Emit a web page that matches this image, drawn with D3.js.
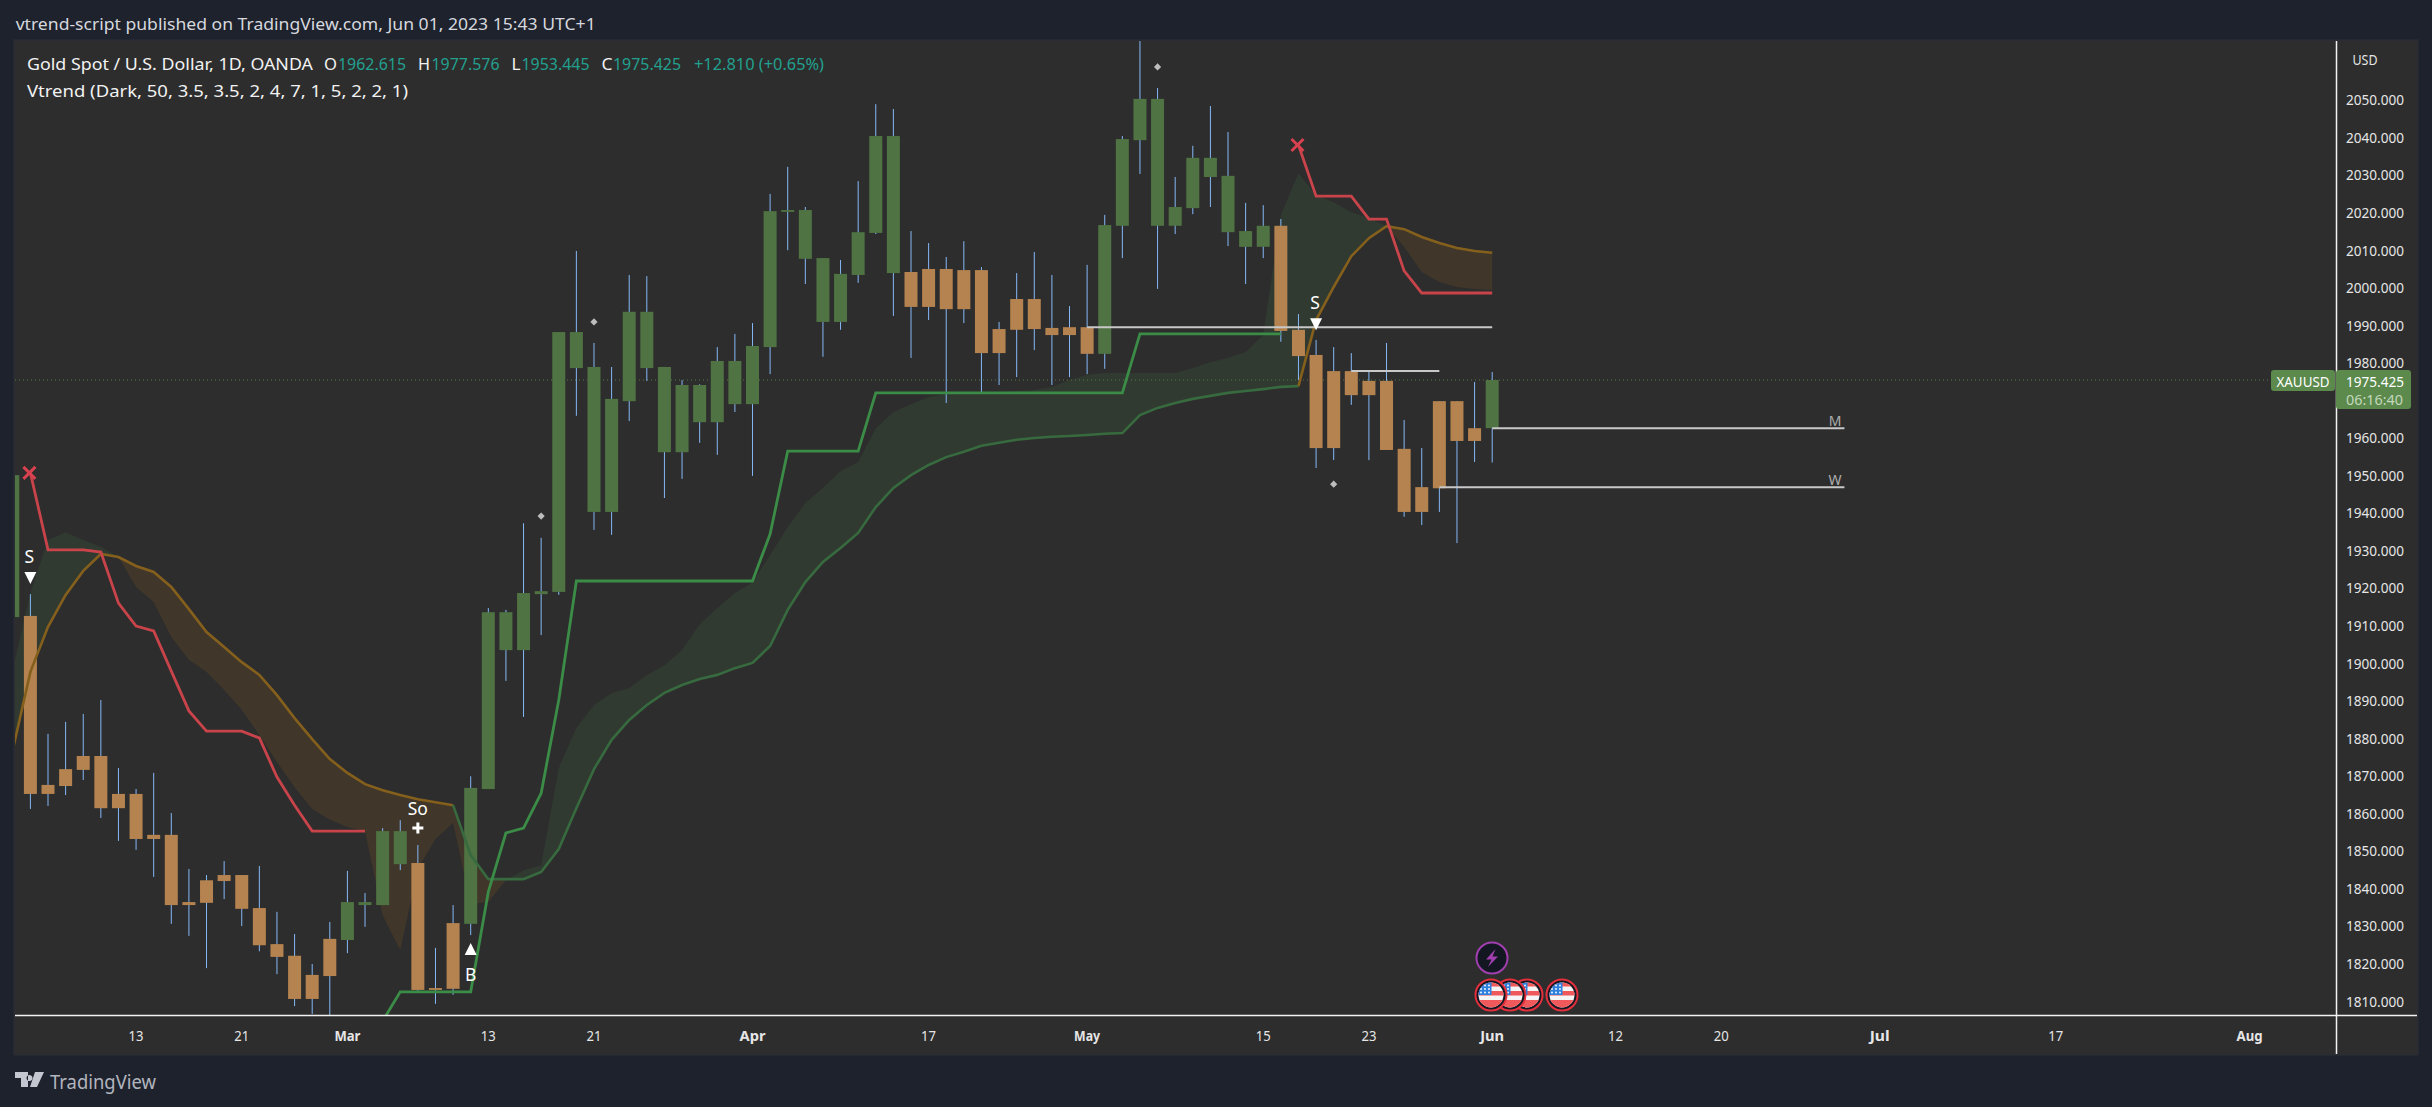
<!DOCTYPE html>
<html><head><meta charset="utf-8">
<style>html,body{margin:0;padding:0;background:#1e222d}svg{display:block}text{font-family:"Noto Sans",sans-serif}</style>
<script src="https://cdn.jsdelivr.net/npm/d3@7"></script></head><body>
<script>
// index 0 of these arrays is the bar of Feb 2; last is Jun 1
const opens=[1912.3,1912.6,1867.6,1871.8,1875.3,1875.3,1865.2,1865.2,1854.3,1854.3,1836.4,1842.2,1843.6,1843.6,1834.8,1825.2,1822.1,1817.0,1826.6,1826.3,1835.6,1835.6,1846.5,1846.8,1813.5,1830.8,1830.6,1866.5,1903.5,1903.5,1918.4,1919.0,1978.6,1940.3,1940.3,1969.8,1978.6,1956.2,1956.2,1964.2,1964.2,1969.0,1969.0,1984.2,2020.2,2007.7,1990.9,1990.9,2003.4,2014.6,2003.9,2004.2,2005.0,2005.0,2004.7,2004.7,1989.0,1997.0,1997.0,1989.3,1989.5,1989.5,1982.4,2016.5,2039.3,2016.5,2016.5,2021.2,2029.5,2014.8,2010.9,2010.9,2016.5,1988.8,1982.1,1977.8,1977.8,1975.2,1975.2,1957.1,1946.9,1969.8,1969.8,1962.6,1962.615];
const highs=[1950.1,1918.4,1881.2,1884.4,1886.5,1890.2,1872.1,1866.5,1870.8,1860.1,1845.2,1843.6,1847.3,1843.6,1846.0,1833.8,1827.9,1819.9,1831.1,1844.7,1838.8,1856.1,1858.2,1851.6,1824.2,1835.6,1869.9,1914.7,1914.2,1937.3,1933.4,1988.2,2009.8,1985.3,1978.9,2003.4,2003.1,1978.9,1975.4,1974.3,1984.2,1987.7,1990.6,2025.0,2032.2,2021.5,2007.9,2007.4,2028.4,2048.9,2047.6,2015.1,2011.9,2008.2,2012.4,2005.5,1990.9,2003.9,2009.5,2003.4,1995.1,2006.1,2019.4,2040.4,2065.7,2053.2,2029.5,2037.8,2048.4,2041.5,2022.6,2022.0,2018.3,1993.0,1986.1,1984.2,1982.6,1977.8,1985.3,1964.8,1957.3,1969.8,1969.8,1974.9,1977.576];
const lows=[1912.3,1861.2,1862.0,1864.9,1868.9,1858.8,1852.7,1850.3,1843.1,1830.6,1827.4,1818.8,1837.2,1830.0,1823.3,1817.2,1808.7,1806.6,1803.0,1822.8,1829.8,1835.6,1844.9,1812.5,1809.3,1811.7,1827.6,1866.5,1895.3,1885.7,1907.5,1918.2,1965.9,1935.5,1934.2,1964.5,1975.2,1944.0,1949.1,1958.7,1955.5,1966.9,1949.9,1977.0,2010.0,2001.0,1981.6,1988.8,2001.3,2014.3,1992.5,1981.3,1991.4,1969.3,1990.6,1971.7,1974.1,1976.2,1983.4,1974.1,1976.2,1977.0,1978.4,2007.9,2030.3,1999.7,2014.3,2019.6,2021.5,2011.1,2001.0,2007.9,1985.6,1975.4,1952.0,1954.1,1968.8,1954.1,1956.8,1939.0,1936.8,1940.3,1932.0,1953.6,1953.445];
const closes=[1950.1,1865.2,1865.2,1867.3,1871.6,1861.4,1861.4,1853.2,1853.2,1835.6,1835.6,1836.2,1842.0,1834.6,1824.9,1821.8,1810.6,1810.6,1816.7,1836.4,1836.4,1855.3,1855.3,1813.0,1813.0,1813.3,1866.8,1913.6,1913.6,1918.7,1919.2,1988.2,1988.2,1978.9,1970.4,1993.6,1993.6,1978.9,1974.1,1974.1,1980.5,1980.5,1984.5,2020.4,2020.7,2020.7,2007.9,2003.7,2014.8,2040.4,2040.4,1994.9,1994.9,1994.3,1994.3,1982.6,1982.6,1988.8,1989.0,1987.4,1987.4,1982.4,2016.7,2039.6,2050.3,2050.3,2021.5,2034.6,2034.6,2029.8,2015.1,2016.5,1988.5,1981.8,1957.3,1957.3,1971.4,1971.4,1956.8,1940.3,1940.3,1946.6,1959.2,1959.2,1975.425];
const trendLine=[1876.9,1897.7,1909.7,1918.2,1924.6,1929.1,1928.3,1925.9,1924.3,1920.3,1914.4,1908.3,1904.3,1900.3,1896.9,1891.5,1885.4,1879.8,1874.5,1870.8,1867.8,1866.2,1864.9,1863.8,1863.0,1862.2,1848.9,1842.5,1842.5,1842.5,1844.4,1850.5,1861.4,1871.8,1879.6,1884.9,1888.9,1892.1,1894.2,1895.8,1896.9,1898.7,1900.1,1904.6,1914.2,1921.6,1927.0,1930.7,1934.7,1941.6,1946.7,1950.1,1952.8,1954.9,1956.3,1957.9,1958.7,1959.5,1960.0,1960.3,1960.5,1960.8,1961.1,1961.3,1966.1,1968.0,1969.3,1970.4,1971.2,1972.0,1972.5,1973.0,1973.6,1973.8,1991.4,2000.2,2008.4,2013.2,2016.4,2015.6,2013.5,2011.9,2010.6,2009.8,2009.3];
const cloudEdge=[1898.2,1918.7,1932.8,1934.9,1932.8,1931.0,1928.3,1920.3,1916.3,1907.0,1900.9,1897.7,1892.9,1887.6,1880.9,1873.7,1867.0,1861.2,1858.3,1856.4,1855.3,1832.9,1823.6,1845.2,1853.2,1857.5,1835.9,1836.4,1842.3,1844.9,1846.3,1872.1,1882.8,1888.9,1892.1,1893.4,1896.9,1899.5,1903.5,1910.4,1914.7,1918.7,1921.6,1928.8,1936.3,1942.7,1946.7,1951.2,1953.6,1962.6,1966.9,1969.0,1970.9,1971.7,1972.0,1972.0,1972.2,1972.5,1972.8,1973.6,1975.4,1976.8,1977.3,1977.3,1977.3,1977.3,1977.3,1978.6,1980.2,1981.3,1982.9,1987.4,2019.4,2030.5,2024.7,2022.8,2020.2,2018.6,2016.4,2010.9,2004.2,2001.5,2000.2,1999.7,1999.4];
// stop lines: [bar index, value]; bar index counts from Feb 3 = 0
const redStopA=[[0,1950.7],[1,1930.2],[3,1930.2],[4,1929.6],[5,1916.0],[6,1909.9],[7,1908.6],[8,1897.9],[9,1887.3],[10,1881.9],[12,1881.9],[13,1880.1],[14,1869.7],[15,1862.2],[16,1855.3],[19,1855.3]];
const redStopB=[[72,2038.0],[73,2024.4],[75,2024.4],[76,2018.3],[77,2018.3],[78,2004.5],[79,1998.6],[83,1998.6]];
const greenStop=[[20,1804.7],[21,1812.5],[25,1812.5],[26,1839.1],[27,1854.8],[28,1856.1],[29,1865.4],[30,1890.2],[31,1921.9],[41,1921.9],[42,1934.4],[43,1956.5],[47,1956.5],[48,1972.0],[62,1972.0],[63,1987.7],[71,1987.7]];
const levelLines=[[60,83,1989.5,""],[75,80,1977.8,""],[83,103,1962.6,"M"],[80,103,1946.9,"W"]];
const dots=[[29,1939.2],[32,1990.9],[64,2058.8],[74,1947.7]];
const priceTicks=[2050,2040,2030,2020,2010,2000,1990,1980,1960,1950,1940,1930,1920,1910,1900,1890,1880,1870,1860,1850,1840,1830,1820,1810];
const dateTicks=[[6,"13"],[12,"21"],[18,"Mar",1],[26,"13"],[32,"21"],[41,"Apr",1],[51,"17"],[60,"May",1],[70,"15"],[76,"23"],[83,"Jun",1],[90,"12"],[96,"20"],[105,"Jul",1],[115,"17"],[126,"Aug",1]];

const W=2432,H=1107;
const x=d3.scaleLinear().domain([0,83]).range([30.4,1492.2]);
const y=d3.scaleLinear().domain([2050,1810]).range([100,1001.2]);
const svg=d3.select("body").append("svg").attr("width",W).attr("height",H);
svg.append("rect").attr("width",W).attr("height",H).attr("fill","#1e222d");
svg.append("rect").attr("x",14).attr("y",40).attr("width",2404).attr("height",1015).attr("fill","#2d2d2d").attr("stroke","#2a2e39").attr("stroke-width",1);
const defs=svg.append("defs");
defs.append("clipPath").attr("id","plot").append("rect").attr("x",15).attr("y",41).attr("width",2321).attr("height",974);
const plot=svg.append("g").attr("clip-path","url(#plot)");

const bars=d3.range(opens.length).map(i=>({b:i-1,o:opens[i],h:highs[i],l:lows[i],c:closes[i],t:trendLine[i],e:cloudEdge[i]}));
// cloud
const area=d3.area().x(d=>x(d.b)).y0(d=>y(d.t)).y1(d=>y(d.e));
[[ -1,5,"#303a31"],[5,27,"#40372a"],[27,77,"#303a31"],[77,83,"#40372a"]].forEach(([a,b,c])=>{
  plot.append("path").attr("d",area(bars.filter(d=>d.b>=a&&d.b<=b))).attr("fill",c);
});
// dotted last price
plot.append("line").attr("x1",15).attr("x2",2268).attr("y1",y(closes[closes.length-1])).attr("y2",y(closes[closes.length-1])).attr("stroke","#567a47").attr("stroke-width",1).attr("stroke-dasharray","1 3");
// wicks
plot.selectAll(".w").data(bars).join("line").attr("x1",d=>x(d.b)).attr("x2",d=>x(d.b)).attr("y1",d=>y(d.h)).attr("y2",d=>y(d.l)).attr("stroke","#85b8f8").attr("stroke-width",1);
// bodies
const bw=13;
plot.selectAll(".b").data(bars).join("rect").attr("x",d=>x(d.b)-bw/2).attr("width",bw)
 .attr("y",d=>y(Math.max(d.o,d.c))).attr("height",d=>Math.max(1.5,Math.abs(y(d.o)-y(d.c))))
 .attr("fill",d=>d.c>=d.o?"#4f7342":"#b5834f");
// trend line
const line=d3.line().x(d=>x(d.b)).y(d=>y(d.t));
[[ -1,24,"#85601c"],[24,72,"#376a3e"],[72,83,"#85601c"]].forEach(([a,b,c])=>{
  plot.append("path").attr("d",line(bars.filter(d=>d.b>=a&&d.b<=b))).attr("fill","none").attr("stroke",c).attr("stroke-width",2.6);
});
const stop=d3.line().x(d=>x(d[0])).y(d=>y(d[1]));
[[redStopA,"#c9444a"],[redStopB,"#c9444a"],[greenStop,"#3b8c47"]].forEach(([p,c])=>{
  plot.append("path").attr("d",stop(p)).attr("fill","none").attr("stroke",c).attr("stroke-width",2.8);
});
// level lines
levelLines.forEach(([a,b,v,t])=>{
  plot.append("line").attr("x1",x(a)).attr("x2",x(b)).attr("y1",y(v)).attr("y2",y(v)).attr("stroke","#c8c8c8").attr("stroke-width",2);
  if(t)plot.append("text").attr("x",x(b)-3).attr("y",y(v)-8).attr("text-anchor","end").attr("dominant-baseline","central").attr("fill","#adadad").attr("font-size",14).text(t);
});
// X marks
[redStopA[0],redStopB[0]].forEach(p=>{
  const cx=x(p[0])-1,cy=y(p[1]);
  plot.append("path").attr("d",`M${cx-6},${cy-6}L${cx+6},${cy+6}M${cx-6},${cy+6}L${cx+6},${cy-6}`).attr("stroke","#d8414f").attr("stroke-width",3);
});
// diamonds
plot.selectAll(".d").data(dots).join("path").attr("transform",d=>`translate(${x(d[0])},${y(d[1])})`).attr("d","M0,-3.6L3.6,0L0,3.6L-3.6,0Z").attr("fill","#bdbdbd");
// signal markers
const sig=[[0,1922.7,"S"],[73,1990.3,"S"]];
sig.forEach(([b,v,t])=>{
  plot.append("path").attr("transform",`translate(${x(b)},${y(v)})`).attr("d","M-6,-6L6,-6L0,6Z").attr("fill","#fff");
  plot.append("text").attr("x",x(b)-1).attr("y",y(v)-22).attr("text-anchor","middle").attr("dominant-baseline","central").attr("fill","#fff").attr("font-size",17.5).text(t);
});
plot.append("path").attr("transform",`translate(${x(25)},${y(1823.9)})`).attr("d","M-6,6L6,6L0,-6Z").attr("fill","#fff");
plot.append("text").attr("x",x(25)).attr("y",y(1823.9)+25).attr("text-anchor","middle").attr("dominant-baseline","central").attr("fill","#fff").attr("font-size",17.5).text("B");
plot.append("path").attr("transform",`translate(${x(22)},${y(1856.1)})`).attr("d","M-1.5,-5.5H1.5V-1.5H5.5V1.5H1.5V5.5H-1.5V1.5H-5.5V-1.5H-1.5Z").attr("fill","#fff");
plot.append("text").attr("x",x(22)).attr("y",y(1856.1)-20).attr("text-anchor","middle").attr("dominant-baseline","central").attr("fill","#fff").attr("font-size",17.5).text("So");

// event badges
const fy=995;
const badges=svg.append("g");
[[1562],[1527],[1510],[1491]].forEach(([cx],i)=>{
  const id="fc"+i;
  defs.append("clipPath").attr("id",id).append("circle").attr("cx",cx).attr("cy",fy).attr("r",12.5);
  badges.append("circle").attr("cx",cx).attr("cy",fy).attr("r",15.5).attr("fill","#131722").attr("stroke","#e32f3c").attr("stroke-width",2);
  const g=badges.append("g").attr("clip-path",`url(#${id})`);
  g.append("rect").attr("x",cx-13).attr("y",fy-13).attr("width",26).attr("height",26).attr("fill","#f5f5f5");
  [-13,-4,5].forEach(o=>g.append("rect").attr("x",cx-13).attr("y",fy+o).attr("width",26).attr("height",o==5?8:4.5).attr("fill","#f0595c"));
  g.append("rect").attr("x",cx-13).attr("y",fy-13).attr("width",13.5).attr("height",13).attr("fill","#2f80dd");
  g.selectAll(null).data(d3.range(9)).join("circle").attr("cx",d=>cx-10+(d%3)*4).attr("cy",d=>fy-9.5+Math.floor(d/3)*3.5).attr("r",0.9).attr("fill","#fff");
});
badges.append("circle").attr("cx",1492).attr("cy",958).attr("r",15.5).attr("fill","#131722").attr("stroke","#a23fb0").attr("stroke-width",2);
badges.append("path").attr("d","M1495.5,949L1486,959.5H1491.5L1488,967L1498,956.5H1492.5Z").attr("fill","#a23fb0");

// axes frame
svg.append("line").attr("x1",15).attr("x2",2417).attr("y1",1015.5).attr("y2",1015.5).attr("stroke","#f2f2f2").attr("stroke-width",1.5);
svg.append("line").attr("x1",2336.5).attr("x2",2336.5).attr("y1",41).attr("y2",1054).attr("stroke","#f2f2f2").attr("stroke-width",1.5);

function fit(sel,len){return sel.attr("textLength",len).attr("lengthAdjust","spacingAndGlyphs");}
// price axis
const ya=svg.append("g");
fit(ya.selectAll("text").data(priceTicks).join("text").attr("x",2404).attr("y",d=>y(d)-0.7).attr("text-anchor","end").attr("dominant-baseline","central").attr("fill","#e6e6e6").attr("font-size",15).text(d=>d3.format(".3f")(d)),58);
fit(svg.append("text").attr("x",2365).attr("y",59).attr("text-anchor","middle").attr("dominant-baseline","central").attr("fill","#e6e6e6").attr("font-size",14.5).text("USD"),25);
// date axis
fit(svg.append("g").selectAll("text").data(dateTicks).join("text").attr("x",d=>x(d[0])).attr("y",1035).attr("text-anchor","middle").attr("dominant-baseline","central").attr("fill","#e6e6e6").attr("font-size",15).attr("font-weight",d=>d[2]?700:400).text(d=>d[1]),d=>d[2]?(d[1]=="Jun"||d[1]=="Jul"?(d[1]=="Jun"?24:20):26):15);

// price labels
svg.append("rect").attr("x",2271).attr("y",370).attr("width",64).attr("height",21).attr("rx",3).attr("fill","#5b8a4c");
fit(svg.append("text").attr("x",2303).attr("y",380.5).attr("text-anchor","middle").attr("dominant-baseline","central").attr("fill","#fff").attr("font-size",15).text("XAUUSD"),53);
svg.append("rect").attr("x",2336).attr("y",370).attr("width",75).attr("height",39).attr("rx",3).attr("fill","#5b8a4c");
fit(svg.append("text").attr("x",2404).attr("y",380.5).attr("text-anchor","end").attr("dominant-baseline","central").attr("fill","#fff").attr("font-size",15).text("1975.425"),58);
fit(svg.append("text").attr("x",2403).attr("y",399).attr("text-anchor","end").attr("dominant-baseline","central").attr("fill","#c4d8bc").attr("font-size",15).text("06:16:40"),57);

// header texts: x, y, text, colour, width
const hdr=[[15.7,23,"vtrend-script published on TradingView.com, Jun 01, 2023 15:43 UTC+1","#d6d8de",580],
[27,63,"Gold Spot / U.S. Dollar, 1D, OANDA","#f2f2f2",286],[324,63,"O","#f2f2f2",13],[338,63,"1962.615","#22a08f",68],
[418,63,"H","#f2f2f2",12],[431.5,63,"1977.576","#22a08f",68],[511.5,63,"L","#f2f2f2",9],[521.5,63,"1953.445","#22a08f",68],
[601.5,63,"C","#f2f2f2",11],[613,63,"1975.425","#22a08f",68],[694,63,"+12.810 (+0.65%)","#22a08f",130],
[27,90,"Vtrend (Dark, 50, 3.5, 3.5, 2, 4, 7, 1, 5, 2, 2, 1)","#f2f2f2",381]];
fit(svg.append("g").selectAll("text").data(hdr).join("text").attr("x",d=>d[0]).attr("y",d=>d[1]).attr("dominant-baseline","central").attr("fill",d=>d[3]).attr("font-size",17).text(d=>d[2]),d=>d[4]);

// TradingView logo
svg.append("path").attr("d","M15,1072H28V1087H21V1078H15ZM35,1072L44,1072L37,1087H30ZM29.5,1075a3,3 0 1,0 0.01,0Z").attr("fill","#c4c7cf");
fit(svg.append("text").attr("x",50).attr("y",1081).attr("dominant-baseline","central").attr("fill","#b2b5be").attr("font-size",20).text("TradingView"),106);
</script></body></html>
